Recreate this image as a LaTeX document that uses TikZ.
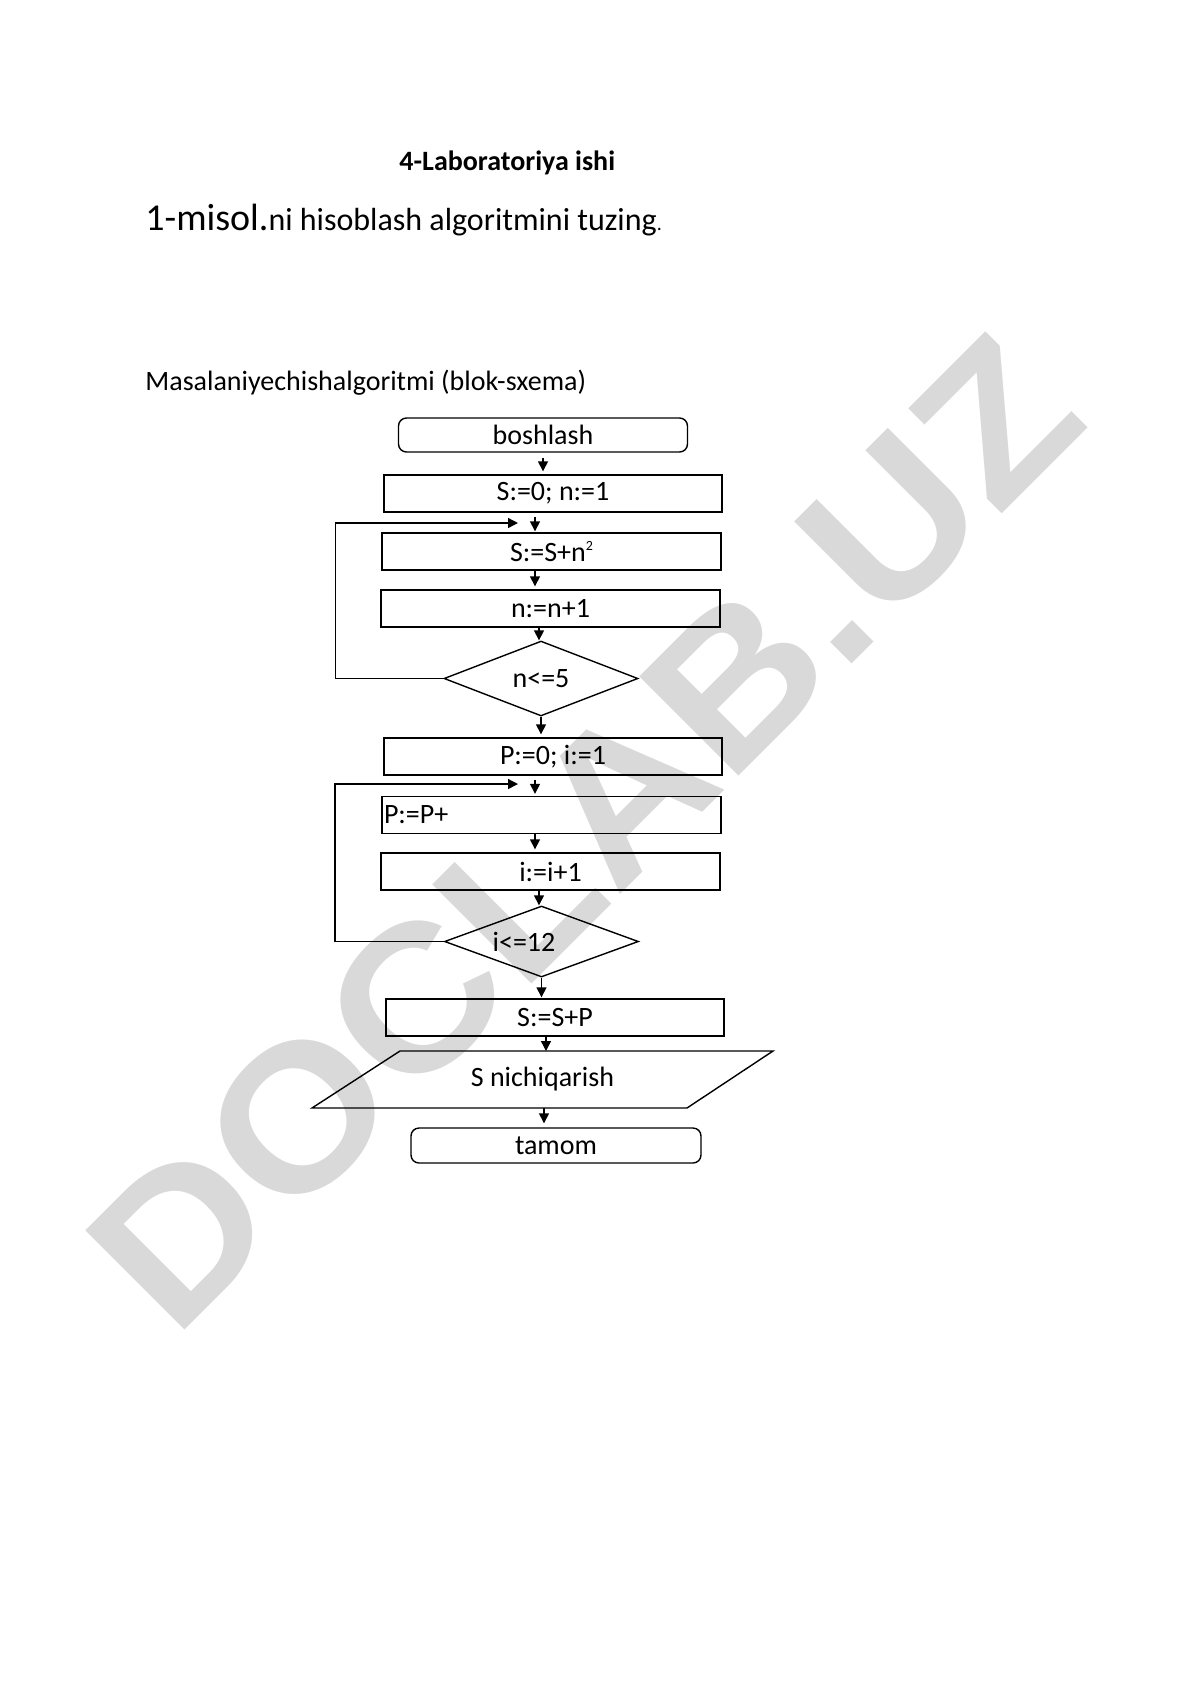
\documentclass[tikz,border=0pt]{standalone}
\usepackage{fontspec}
\setmainfont{Carlito}
\newfontfamily\belgifont{Liberation Sans}
\usetikzlibrary{arrows.meta,shapes.geometric}

\begin{document}
\begin{tikzpicture}[x=0.5pt,y=-0.5pt,
	matn/.style={inner sep=0pt,font=\fontsize{14}{17}\selectfont},
	blok/.style={draw,line width=0.7pt,inner sep=0pt,minimum height=18.5pt,font=\fontsize{14}{17}\selectfont},
	boshblok/.style={blok,rounded corners=4pt,minimum height=17pt},
	romb/.style={draw,diamond,line width=0.7pt,inner sep=0pt,minimum width=97pt,minimum height=35.5pt,font=\fontsize{14}{17}\selectfont},
	chiz/.style={line width=0.7pt},
	oq/.style={chiz,-{Triangle[length=5pt,width=5pt]}}]
	
	\useasboundingbox (0,0) rectangle (1190,1683);
	
	\node[rotate=45,inner sep=0pt,text=black!15,font=\belgifont\bfseries\fontsize{102}{102}\selectfont] (belgi) at (584,832) {\scalebox{1.08}[1]{DOCLAB.UZ}};
	
	\node[matn,anchor=base west,font=\bfseries\fontsize{14}{17}\selectfont] (sarlavha) at (399,170) {4-Laboratoriya ishi};
	\node[matn,anchor=base west] (misol) at (145,230) {{\fontsize{19}{22}\selectfont 1-misol.}{\fontsize{16}{19}\selectfont ni hisoblash algoritmini tuzing}{\fontsize{10}{12}\selectfont .}};
	\node[matn,anchor=base west] (masala) at (145,390) {Masalaniyechishalgoritmi (blok-sxema)};
	
	\node[boshblok,minimum width=144.5pt] (bosh) at (543,435) {boshlash};
	\node[blok,minimum width=169pt] (s0) at (553,493.5) {S:=0; n:=1};
	\node[blok,minimum width=169.5pt] (sq) at (551.5,551.5) {S:=S+n\raisebox{5.5pt}{\fontsize{7}{8}\selectfont 2}};
	\node[blok,minimum width=169.5pt] (n1) at (550.5,608.5) {n:=n+1};
	\node[romb] (d1) at (541,678.5) {n<=5};
	\node[blok,minimum width=169pt] (p0) at (553,756.5) {P:=0; i:=1};
	\node[blok,inner xsep=1pt,text width=167.5pt,align=left] (pp) at (551.5,815) {P:=P+};
	\node[blok,minimum width=169.5pt] (i1) at (550.5,871.5) {i:=i+1};
	\node[romb] (d2) at (541.5,941.5) {};
	\node[matn] (d2t) at (524,942) {i<=12};
	\node[blok,minimum width=169pt] (sp) at (555,1017.5) {S:=S+P};
	\draw[chiz] (400,1051) -- (773,1051) -- (687,1108) -- (312,1108) -- cycle;
	\node[matn] (chiq) at (542.5,1079.5) {S nichiqarish};
	\coordinate (chiqt) at (546,1051);
	\coordinate (chiqb) at (544,1108);
	\node[boshblok,minimum width=145pt,minimum height=17.5pt] (tam) at (556,1145.5) {tamom};
	
	\coordinate (q1) at (518,523);
	\coordinate (q2) at (518,784);
	
	\draw[oq,shorten <=2.5pt,shorten >=1.5pt] (bosh.south) -- (bosh.south |- s0.north);
	\draw[oq,shorten <=2pt,shorten >=0.5pt] ([xshift=-9pt]s0.south) -- ([xshift=-9pt]s0.south |- sq.north);
	\draw[oq] (d1.west) -- ++(-108,0) |- (q1);
	\draw[oq,shorten >=1.5pt] ([xshift=-8.25pt]sq.south) -- ([xshift=-8.25pt]sq.south |- n1.north);
	\draw[oq] ([xshift=-5.75pt]n1.south) -- ([xshift=-5.75pt]n1.south |- d1.north);
	\draw[oq,shorten >=1.5pt] (d1.south) -- (d1.south |- p0.north);
	\draw[oq,shorten <=2pt,shorten >=1pt] ([xshift=-9pt]p0.south) -- ([xshift=-9pt]p0.south |- pp.north);
	\draw[oq] (d2.west) -- ++(-109,0) |- (q2);
	\draw[oq,shorten >=1.5pt] ([xshift=-8.25pt]pp.south) -- ([xshift=-8.25pt]pp.south |- i1.north);
	\draw[oq] ([xshift=-5.75pt]i1.south) -- ([xshift=-5.75pt]i1.south |- d2.north);
	\draw[oq,shorten >=0.5pt] (d2.south) -- (d2.south |- sp.north);
	\draw[oq] ([xshift=-4.5pt]sp.south) -- (chiqt);
	\draw[oq,shorten >=2pt] (chiqb) -- (chiqb |- tam.north);
\end{tikzpicture}
\end{document}
